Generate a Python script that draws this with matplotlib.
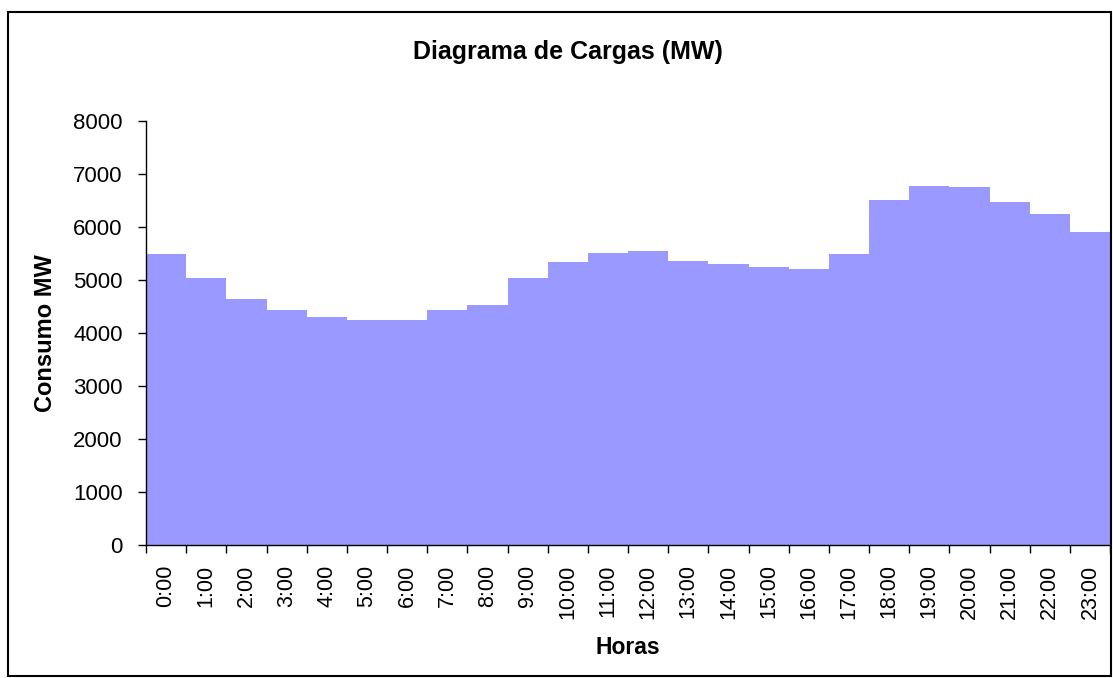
import matplotlib.pyplot as plt
import numpy as np
from matplotlib.patches import Rectangle

plt.rcParams['font.family'] = ['Liberation Sans', 'DejaVu Sans']

# Data
horas = ['0:00', '1:00', '2:00', '3:00', '4:00', '5:00', '6:00', '7:00',
         '8:00', '9:00', '10:00', '11:00', '12:00', '13:00', '14:00', '15:00',
         '16:00', '17:00', '18:00', '19:00', '20:00', '21:00', '22:00', '23:00']
consumo = [5490, 5040, 4640, 4430, 4300, 4245, 4245, 4430,
           4530, 5040, 5340, 5510, 5550, 5360, 5300, 5245,
           5210, 5490, 6510, 6775, 6755, 6470, 6245, 5905]
y_ticks = [0, 1000, 2000, 3000, 4000, 5000, 6000, 7000, 8000]

fig = plt.figure(figsize=(11.13, 6.78), dpi=100)
W, H = 1113, 678
ax = fig.add_axes([146 / W, 1 - 545 / H, (1110 - 146) / W, (545 - 121) / H])

x = np.arange(len(horas))
ax.bar(x, consumo, width=1.0, color='#9999FF', linewidth=0)

# Axis range and ticks
ax.set_xlim(-0.5, len(horas) - 0.5)
ax.set_ylim(0, 8000)
ax.set_yticks(y_ticks)
ax.set_xticks(x)
ax.set_xticklabels(horas, rotation=90, fontsize=15.5)
ax.set_xticks(np.arange(-0.5, len(horas)), minor=True)
ax.tick_params(axis='x', which='major', length=0, pad=14)
ax.tick_params(axis='x', which='minor', length=5.8, width=1, direction='out')
ax.tick_params(axis='y', length=5.8, width=1, direction='out', labelsize=16, pad=11)

for s in ['top', 'right']:
    ax.spines[s].set_visible(False)
for s in ['left', 'bottom']:
    ax.spines[s].set_linewidth(1)

# Labels
ax.set_ylabel('Consumo MW', fontsize=17, fontweight='bold', va='center')
ax.yaxis.set_label_coords((46 - 146) / 964, 0.5)
ax.set_xlabel('Horas', fontsize=16.5, fontweight='bold', va='center')
ax.xaxis.set_label_coords(0.5, (545 - 647) / 424)
fig.text(568 / W, 1 - 52 / H, 'Diagrama de Cargas (MW)', fontsize=18,
         fontweight='bold', ha='center', va='center')

# Outer border
fig.patches.append(Rectangle((8 / W, 1 - 676 / H), (1111 - 8) / W, (676 - 12) / H,
                             transform=fig.transFigure, fill=False,
                             edgecolor='black', linewidth=1.5))

plt.savefig('out.png', dpi=100)
